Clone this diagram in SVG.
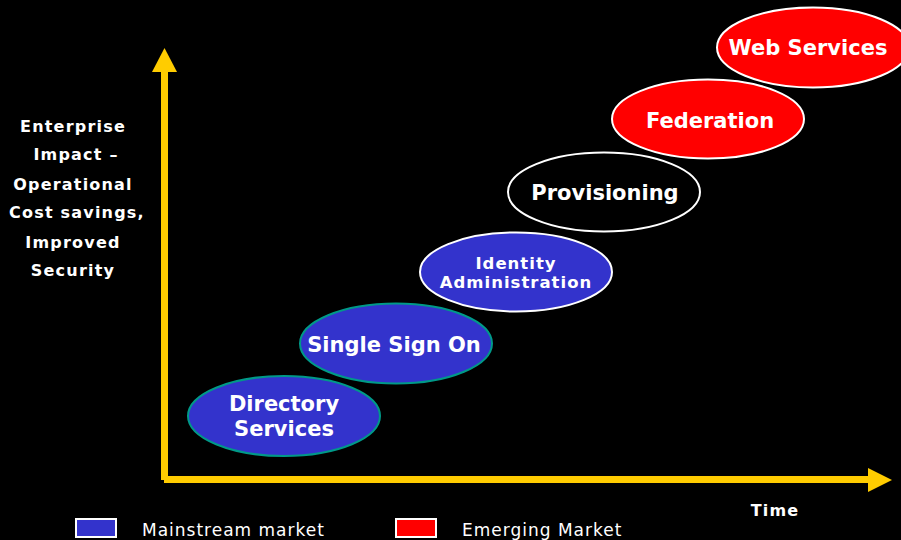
<svg xmlns="http://www.w3.org/2000/svg" width="901" height="540" viewBox="0 0 901 540">
<style>
.bg{fill:#000}
.ax{fill:#FFCC00}
.blue{fill:#3333CC}
.red{fill:#FF0000}
.dark{fill:#000}
.st-teal{stroke:#009988;stroke-width:2}
.st-white{stroke:#FFFFFF;stroke-width:2}
.lbl{font-family:"DejaVu Sans",Verdana,sans-serif;font-weight:bold;fill:#FFFFFF;text-anchor:middle}
.big{font-size:21px}
.small{font-size:16.5px;letter-spacing:1px}
.side{font-family:"DejaVu Sans",Verdana,sans-serif;font-weight:bold;fill:#FFFFFF;font-size:16px;letter-spacing:1.2px;text-anchor:middle}
.leg{font-family:"DejaVu Sans",Verdana,sans-serif;fill:#FFFFFF;font-size:17px;letter-spacing:1px}
</style>
<rect class="bg" x="0" y="0" width="901" height="540"/>
<g id="connectors">
  <rect class="ax" x="161" y="70" width="7" height="410"/>
  <polygon class="ax" points="164.5,48 177,72 152,72"/>
  <rect class="ax" x="164" y="476" width="706" height="7"/>
  <polygon class="ax" points="892,480 868,468 868,492"/>
</g>
<g id="axis-y-label">
  <text class="side" x="73" y="132">Enterprise</text>
  <text class="side" x="76" y="160">Impact –</text>
  <text class="side" x="73" y="190">Operational</text>
  <text class="side" x="77" y="218">Cost savings,</text>
  <text class="side" x="73" y="248">Improved</text>
  <text class="side" x="73" y="276">Security</text>
</g>
<g id="axis-x-label">
  <text class="side" x="775" y="516">Time</text>
</g>
<g id="directory-services">
  <ellipse class="blue st-teal" cx="284" cy="416" rx="96" ry="40"/>
  <text class="lbl big" x="284" y="411">Directory</text>
  <text class="lbl big" x="284" y="436">Services</text>
</g>
<g id="single-sign-on">
  <ellipse class="blue st-teal" cx="396" cy="343.5" rx="96" ry="40"/>
  <text class="lbl big" x="394" y="352">Single Sign On</text>
</g>
<g id="identity-administration">
  <ellipse class="blue st-white" cx="516" cy="272" rx="96" ry="39.5"/>
  <text class="lbl small" x="516" y="269">Identity</text>
  <text class="lbl small" x="516" y="288">Administration</text>
</g>
<g id="provisioning">
  <ellipse class="dark st-white" cx="604" cy="192" rx="96" ry="39.5"/>
  <text class="lbl big" x="605" y="200">Provisioning</text>
</g>
<g id="federation">
  <ellipse class="red st-white" cx="708" cy="119" rx="96" ry="39.5"/>
  <text class="lbl big" x="710" y="128">Federation</text>
</g>
<g id="web-services">
  <ellipse class="red st-white" cx="813" cy="47.5" rx="96" ry="40"/>
  <text class="lbl big" x="808" y="55">Web Services</text>
</g>
<g id="legend">
  <rect class="blue" x="76" y="519" width="40" height="18" stroke="#FFFFFF" stroke-width="2"/>
  <text class="leg" x="142" y="536">Mainstream market</text>
  <rect class="red" x="396" y="519" width="40" height="18" stroke="#FFFFFF" stroke-width="2"/>
  <text class="leg" x="462" y="536">Emerging Market</text>
</g>
</svg>
